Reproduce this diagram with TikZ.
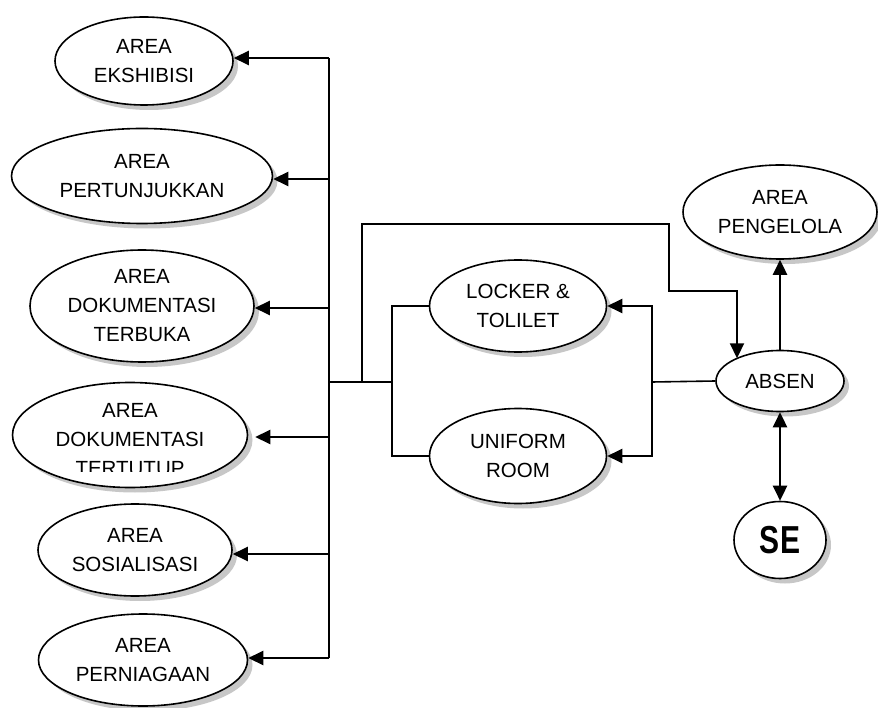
\documentclass[tikz,border=0pt]{standalone}
\usepackage{fontspec}
\setmainfont{Liberation Sans}
\usepackage{graphicx}
\usetikzlibrary{shapes.geometric,shadows,arrows.meta}
\begin{document}
\begin{tikzpicture}[x=1pt,y=-1pt,
  el/.style={ellipse,draw,line width=1.6pt,fill=white,inner sep=0pt,align=center,
     font=\fontsize{20.5}{29}\selectfont,
     drop shadow={shadow xshift=5pt,shadow yshift=-5pt,fill=black!22,opacity=1}},
  arr/.style={line width=2.6pt,-{Triangle[length=15pt,width=14pt]}},
  dbl/.style={line width=2.6pt,{Triangle[length=15pt,width=14pt]}-{Triangle[length=15pt,width=14pt]}},
  bus/.style={line width=2pt},
  thinl/.style={line width=1.6pt}]
\fill[white] (0,0) rectangle (878,708);
\useasboundingbox (0,0) rectangle (878,708);

% left ellipses
\node[el,minimum width=178pt,minimum height=88pt] (e1) at (144,61) {AREA\\EKSHIBISI};
\node[el,minimum width=261pt,minimum height=95pt] (e2) at (142,176) {AREA\\PERTUNJUKKAN};
\node[el,minimum width=224pt,minimum height=112pt] (e3) at (142,306) {AREA\\DOKUMENTASI\\TERBUKA};
\node[el,minimum width=235pt,minimum height=105pt] (e4) at (130,435) {};
\begin{scope}
  \clip (0,380) rectangle (260,471);
  \node[font=\fontsize{20.5}{29}\selectfont,align=center,inner sep=0pt] (e4t) at (130,440) {AREA\\DOKUMENTASI\\TERTUTUP};
\end{scope}
\node[el,minimum width=194pt,minimum height=92pt] (e5) at (135,550) {AREA\\SOSIALISASI};
\node[el,minimum width=209pt,minimum height=92pt] (e6) at (143,660) {AREA\\PERNIAGAAN};

% center and right ellipses
\node[el,minimum width=177pt,minimum height=92pt] (lk) at (518,306) {LOCKER \&\\TOLILET};
\node[el,minimum width=177pt,minimum height=95pt] (un) at (518,456) {UNIFORM\\ROOM};
\node[el,minimum width=128pt,minimum height=61pt] (ab) at (780,381) {ABSEN};
\node[el,minimum width=194pt,minimum height=94pt] (pg) at (780,212) {AREA\\PENGELOLA};
\node[el,minimum width=92pt,minimum height=77pt,font=\bfseries\fontsize{39}{40}\selectfont] (se) at (780,540) {\scalebox{0.77}[1]{SE}};

% bus
\coordinate (b1) at (329,58);
\coordinate (b2) at (329,179);
\coordinate (b3) at (329,308);
\coordinate (b4) at (329,437);
\coordinate (b5) at (329,554);
\coordinate (b6) at (329,658);
\draw[bus] (b1) -- (b6);
\draw[arr] (b1) -- (b1 -| e1.east);
\draw[arr] (b2) -- (b2 -| e2.east);
\draw[arr] (b3) -- (b3 -| e3.east);
\draw[arr] (b4) -- ([xshift=7pt]b4 -| e4.east);
\draw[arr] (b5) -- (b5 -| e5.east);
\draw[arr] (b6) -- (b6 -| e6.east);

% junction
\coordinate (j0) at (329,382);
\coordinate (j1) at (362,382);
\coordinate (j2) at (392,382);
\draw[thinl] (j0) -- (j2);
\draw[thinl] (lk.west) -| (j2);
\draw[thinl] (un.west) -| (j2);

% top route to ABSEN
\coordinate (t2) at (669,224);
\coordinate (t4) at (737,291);
\draw[arr,line width=2pt] (j1) |- (t2) |- (t4) -- (t4 |- ab.153);

% right bracket
\coordinate (r0) at (652,382);
\draw[thinl] (ab.west) -- (r0);
\draw[arr] (r0) |- (lk.east);
\draw[arr] (r0) |- (un.east);

% ABSEN links
\draw[arr] (ab.north) -- (pg.south);
\draw[dbl] (ab.south) -- (se.north);
\end{tikzpicture}
\end{document}
